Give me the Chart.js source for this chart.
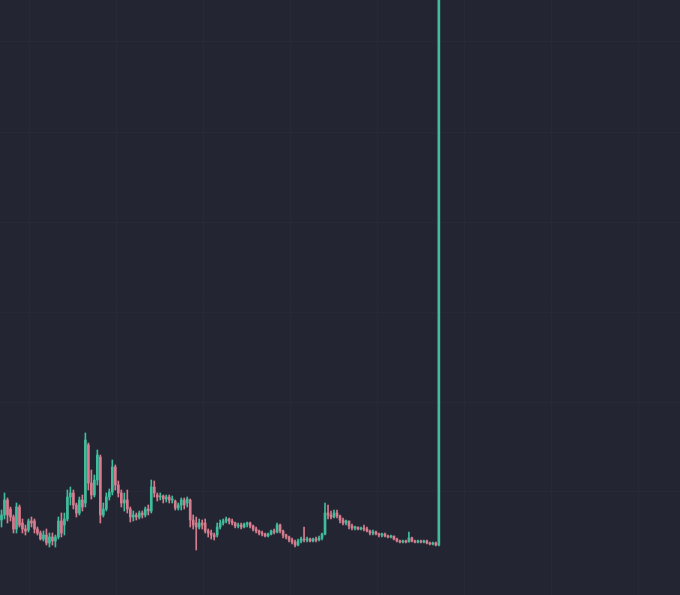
<!DOCTYPE html>
<html><head><meta charset="utf-8">
<script src="https://cdn.jsdelivr.net/npm/chart.js@4"></script>
<style>html,body{margin:0;padding:0;background:#232632;overflow:hidden;}#wrap{width:680px;height:595px;}</style>
</head><body><div id="wrap"><canvas id="c" width="680" height="595"></canvas></div>
<script>
const opens = [.75,.80,.95,.86,.78,.66,.88,.72,.66,.65,.74,.74,.66,.62,.56,.60,.52,.58,.54,.58,
.74,.70,.76,.98,1.02,.90,.82,.95,.92,1.50,1.12,1.00,1.15,1.38,.80,.86,.98,1.03,1.28,1.10,
1.02,.92,.95,.86,.78,.80,.78,.82,.80,.86,.84,1.08,1.00,.98,.99,.96,.98,.95,.94,.87,
.90,.95,.92,.95,.75,.72,.68,.72,.72,.64,.62,.60,.60,.68,.72,.74,.76,.74,.72,.69,
.70,.68,.71,.72,.69,.66,.64,.62,.61,.59,.61,.64,.63,.70,.64,.60,.58,.55,.53,.50,
.54,.56,.55,.56,.54,.56,.55,.57,.61,.82,.80,.78,.82,.79,.75,.72,.74,.69,.67,.68,
.66,.67,.66,.64,.62,.63,.61,.60,.61,.59,.58,.59,.56,.54,.53,.54,.53,.57,.54,.53,
.54,.53,.54,.52,.51,.52,.50];
const highs = [.85,1.02,.97,.88,.80,.92,.90,.76,.70,.76,.78,.76,.68,.64,.64,.66,.62,.62,.60,.78,
.82,.82,1.05,1.08,1.05,.92,.98,1.00,1.62,1.52,1.25,1.20,1.45,1.40,.92,1.02,1.06,1.35,1.30,1.14,
1.05,1.02,1.05,.88,.84,.82,.84,.84,.88,.90,1.15,1.14,1.02,1.02,1.00,1.00,1.00,.99,.95,.92,
.97,.97,.98,.96,.80,.78,.76,.75,.76,.66,.65,.62,.72,.75,.76,.78,.77,.76,.73,.72,
.72,.72,.73,.73,.70,.68,.65,.64,.62,.62,.65,.66,.72,.71,.65,.61,.59,.57,.55,.56,
.58,.68,.58,.57,.57,.58,.59,.62,.92,.90,.84,.85,.85,.80,.77,.75,.74,.71,.69,.68,
.68,.70,.68,.65,.65,.64,.62,.62,.62,.60,.60,.59,.57,.55,.55,.55,.63,.58,.55,.55,
.55,.55,.55,.53,.53,.53,6.50];
const lows = [.68,.76,.72,.74,.62,.62,.68,.62,.60,.63,.68,.62,.60,.55,.54,.50,.48,.50,.48,.56,
.58,.60,.74,.90,.86,.78,.80,.84,.88,1.05,.96,.98,1.10,.72,.78,.84,.95,1.00,1.05,.98,
.88,.84,.82,.73,.74,.75,.76,.77,.78,.80,.82,.98,.94,.95,.92,.93,.92,.92,.85,.85,
.85,.86,.88,.68,.66,.45,.66,.66,.62,.58,.56,.55,.58,.66,.70,.72,.71,.70,.67,.67,
.66,.67,.68,.67,.64,.62,.60,.59,.58,.58,.60,.61,.62,.62,.57,.56,.53,.51,.48,.49,
.52,.53,.53,.53,.53,.53,.54,.55,.60,.76,.76,.77,.77,.72,.70,.70,.66,.65,.65,.65,
.65,.64,.63,.60,.60,.60,.58,.58,.58,.57,.57,.55,.53,.52,.52,.52,.53,.53,.52,.52,
.52,.52,.51,.50,.50,.49,.49];
const closes = [.80,.95,.80,.78,.66,.88,.70,.66,.64,.74,.72,.66,.62,.56,.60,.52,.58,.54,.58,.74,
.62,.76,.98,1.02,.90,.82,.95,.88,1.55,1.12,1.00,1.15,1.40,.80,.86,.98,1.03,1.28,1.10,1.02,
.92,.95,.86,.78,.80,.78,.82,.80,.86,.84,1.08,1.02,.98,.99,.96,.98,.95,.96,.87,.90,
.95,.90,.96,.75,.70,.68,.72,.70,.64,.62,.60,.58,.68,.72,.74,.76,.74,.72,.69,.70,
.68,.71,.72,.69,.66,.64,.62,.61,.59,.61,.64,.63,.70,.64,.60,.58,.55,.53,.50,.54,
.56,.55,.56,.54,.56,.55,.57,.61,.82,.80,.78,.82,.79,.75,.72,.74,.69,.67,.68,.66,
.67,.66,.64,.62,.63,.61,.60,.61,.59,.58,.59,.56,.54,.53,.54,.53,.57,.54,.53,.54,
.53,.54,.52,.51,.52,.50,6.30];
const labels = Array.from({length: 227}, (_, i) => 'D' + (i + 1));
const yTicks = [1.03, 1.93, 2.83, 3.73, 4.63, 5.53];

const GREEN = '#40bd9c';
const RED = '#d77c8e';
const GRID = 'rgba(255,255,255,0.02)';
const isUp = i => closes[i] >= opens[i];
const bodies = opens.map((o, i) => [o, closes[i]]);
const wicks = lows.map((l, i) => [l, highs[i]]);

new Chart(document.getElementById('c'), {
  type: 'bar',
  data: {
    labels: labels,
    datasets: [
      { label: 'wick', data: wicks, grouped: false, barThickness: 1, order: 2,
        backgroundColor: c => isUp(c.dataIndex) ? GREEN : RED },
      { label: 'body', data: bodies, grouped: false, barThickness: 2, minBarLength: 1, order: 1,
        backgroundColor: c => isUp(c.dataIndex) ? GREEN : RED }
    ]
  },
  options: {
    responsive: false,
    animation: false,
    layout: { padding: 0 },
    plugins: { legend: { display: false }, tooltip: { enabled: false } },
    scales: {
      x: {
        ticks: { display: false },
        border: { display: false },
        grid: { drawTicks: false, color: c => (c.index % 29 === 10 ? GRID : 'transparent') }
      },
      y: {
        min: 0, max: 5.95,
        afterBuildTicks: s => { s.ticks = yTicks.map(v => ({ value: v })); },
        ticks: { display: false },
        border: { display: false },
        grid: { drawTicks: false, color: GRID }
      }
    }
  }
});
</script>
</body></html>
